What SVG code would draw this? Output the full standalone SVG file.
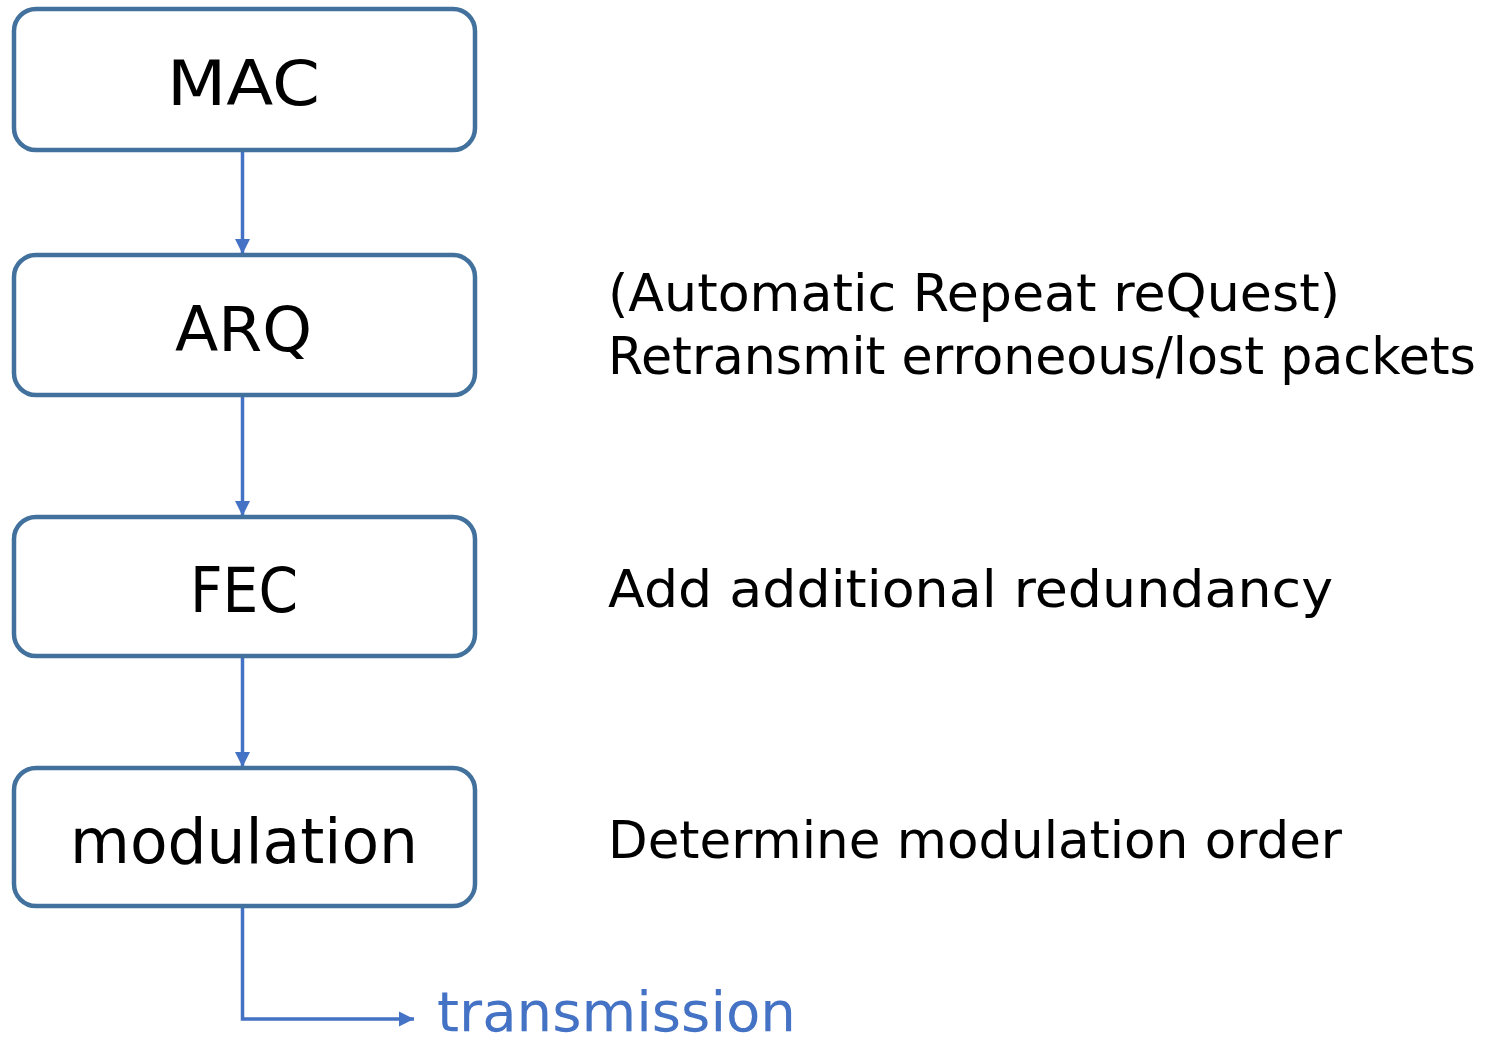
<svg xmlns="http://www.w3.org/2000/svg" width="1485" height="1044" viewBox="0 0 1485 1044">
  <style>
    .box { fill: #ffffff; stroke: #41719C; stroke-width: 4.5; }
    .label { font-family: "DejaVu Sans", "Liberation Sans", sans-serif; font-size: 62px; fill: #000000; }
    .note { font-family: "DejaVu Sans", "Liberation Sans", sans-serif; font-size: 51px; fill: #000000; }
    .out { font-family: "DejaVu Sans", "Liberation Sans", sans-serif; font-size: 56px; fill: #4472C4; }
    .link { fill: none; stroke: #4472C4; stroke-width: 3.5; }
  </style>
  <defs>
    <marker id="arrow" viewBox="0 0 10 10" refX="10" refY="5" markerWidth="4.4" markerHeight="4.4" markerUnits="strokeWidth" orient="auto">
      <path d="M0,0 L10,5 L0,10 Z" fill="#4472C4"/>
    </marker>
  </defs>

  <rect width="1485" height="1044" fill="#ffffff"/>

  <g id="connectors">
    <path class="link" d="M242.5,152 V254" marker-end="url(#arrow)"/>
    <path class="link" d="M242.5,397 V516" marker-end="url(#arrow)"/>
    <path class="link" d="M242.5,658 V767" marker-end="url(#arrow)"/>
    <path class="link" d="M242.5,908 V1019 H414" marker-end="url(#arrow)"/>
  </g>

  <g id="node-mac">
    <rect class="box" x="14" y="9" width="461" height="141" rx="22"/>
    <text class="label" x="167" y="105" textLength="153" lengthAdjust="spacingAndGlyphs">MAC</text>
  </g>

  <g id="node-arq">
    <rect class="box" x="14" y="255" width="461" height="140" rx="22"/>
    <text class="label" x="175" y="351" textLength="137" lengthAdjust="spacingAndGlyphs">ARQ</text>
  </g>

  <g id="node-fec">
    <rect class="box" x="14" y="517" width="461" height="139" rx="22"/>
    <text class="label" x="190" y="612" textLength="108" lengthAdjust="spacingAndGlyphs">FEC</text>
  </g>

  <g id="node-modulation">
    <rect class="box" x="14" y="768" width="461" height="138" rx="22"/>
    <text class="label" x="70" y="863" textLength="348" lengthAdjust="spacingAndGlyphs">modulation</text>
  </g>

  <g id="note-arq">
    <text class="note" x="608" y="311" textLength="732" lengthAdjust="spacingAndGlyphs">(Automatic Repeat reQuest)</text>
    <text class="note" x="608" y="374" textLength="868" lengthAdjust="spacingAndGlyphs">Retransmit erroneous/lost packets</text>
  </g>

  <g id="note-fec">
    <text class="note" x="608" y="607" textLength="725" lengthAdjust="spacingAndGlyphs">Add additional redundancy</text>
  </g>

  <g id="note-modulation">
    <text class="note" x="608" y="858" textLength="734" lengthAdjust="spacingAndGlyphs">Determine modulation order</text>
  </g>

  <g id="node-transmission">
    <text class="out" x="437" y="1031" textLength="359" lengthAdjust="spacingAndGlyphs">transmission</text>
  </g>
</svg>
